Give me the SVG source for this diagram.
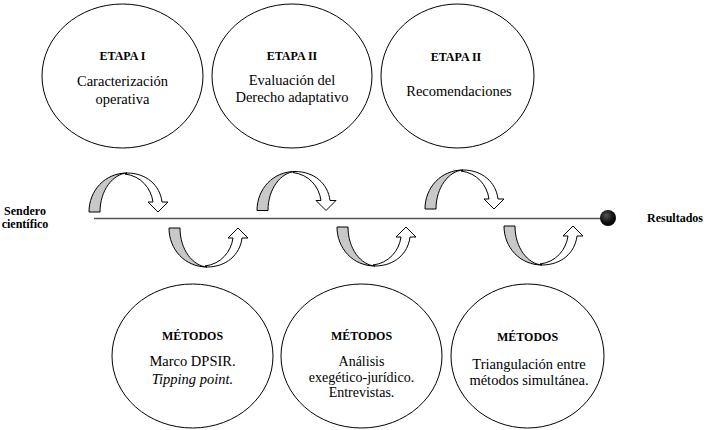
<svg xmlns="http://www.w3.org/2000/svg" width="704" height="430" viewBox="0 0 704 430">
<style>
.c{fill:#fff;stroke:#000;stroke-width:1}
.b{font-family:"Liberation Serif","Times New Roman",serif;font-weight:bold;font-size:12px;fill:#000;text-anchor:middle}
.t{font-family:"Liberation Serif","Times New Roman",serif;font-size:14.5px;fill:#000;text-anchor:middle}
.s{font-size:14px}
.i{font-style:italic}
.g{fill:#c8c8c8;stroke:#000;stroke-width:1;stroke-linejoin:round}
.w{fill:#fff;stroke:#000;stroke-width:1;stroke-linejoin:round}
</style>
<defs>
<g id="arr">
<path class="w" d="M38,-39 C57,-39 71,-27 73,-10 L79,-10 L69,0 L59,-10 L64,-10 C62,-24 52,-36 36,-38 Z"/>
<path class="g" d="M0,0 C0,-21.5 16,-39 38,-39 C24,-38 11,-22 11,0 Z"/>
</g>
<radialGradient id="dot" cx="0.4" cy="0.35" r="0.7">
<stop offset="0" stop-color="#555"/>
<stop offset="0.6" stop-color="#111"/>
<stop offset="1" stop-color="#000"/>
</radialGradient>
</defs>
<rect width="704" height="430" fill="#fff"/>
<g id="connectors">
<line x1="94" y1="218.5" x2="604" y2="218.5" stroke="#555" stroke-width="1.6"/>
<use href="#arr" transform="translate(89,212)"/>
<use href="#arr" transform="translate(257,210.5)"/>
<use href="#arr" transform="translate(425,209)"/>
<use href="#arr" transform="translate(169,228) scale(1,-1)"/>
<use href="#arr" transform="translate(337,227) scale(1,-1)"/>
<use href="#arr" transform="translate(504,226) scale(1,-1)"/>
</g>
<g id="resultados-dot"><circle cx="608" cy="218" r="8" fill="url(#dot)"/></g>
<g id="sendero">
<text class="b" x="25" y="215">Sendero</text>
<text class="b" x="25" y="228">científico</text>
</g>
<g id="resultados"><text class="b" x="675" y="222">Resultados</text></g>
<g id="etapa1">
<ellipse class="c" cx="122.5" cy="76" rx="80.5" ry="72"/>
<text class="b" x="122.5" y="60">ETAPA I</text>
<text class="t" x="122.5" y="86">Caracterización</text>
<text class="t" x="122.5" y="104">operativa</text>
</g>
<g id="etapa2">
<ellipse class="c" cx="292" cy="76" rx="80" ry="72"/>
<text class="b" x="292" y="60">ETAPA II</text>
<text class="t" x="292" y="85">Evaluación del</text>
<text class="t" x="292" y="102">Derecho adaptativo</text>
</g>
<g id="etapa3">
<ellipse class="c" cx="457.5" cy="76" rx="76.5" ry="72"/>
<text class="b" x="456" y="61">ETAPA II</text>
<text class="t" x="459" y="96">Recomendaciones</text>
</g>
<g id="metodos1">
<ellipse class="c" cx="192.5" cy="356" rx="80.5" ry="72"/>
<text class="b" x="192.5" y="340">MÉTODOS</text>
<text class="t" x="192.5" y="366">Marco DPSIR.</text>
<text class="t i" x="192.5" y="384">Tipping point.</text>
</g>
<g id="metodos2">
<ellipse class="c" cx="361.5" cy="356" rx="80.5" ry="72"/>
<text class="b" x="361.5" y="340">MÉTODOS</text>
<text class="t s" x="361.5" y="366">Análisis</text>
<text class="t s" x="361.5" y="381.5">exegético-jurídico.</text>
<text class="t s" x="361.5" y="397">Entrevistas.</text>
</g>
<g id="metodos3">
<ellipse class="c" cx="527.5" cy="356" rx="76.5" ry="72"/>
<text class="b" x="527.5" y="341">MÉTODOS</text>
<text class="t" x="529" y="369">Triangulación entre</text>
<text class="t" x="529" y="385">métodos simultánea.</text>
</g>
</svg>
